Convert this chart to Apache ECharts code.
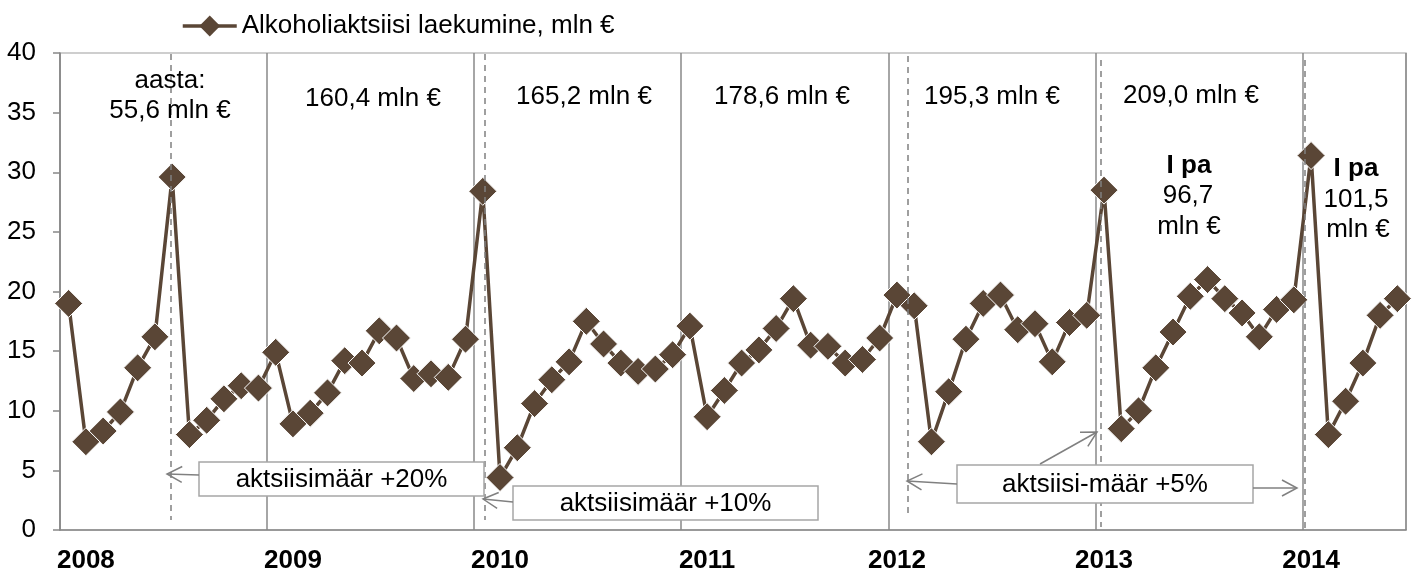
<!DOCTYPE html>
<html>
<head>
<meta charset="utf-8">
<script src="https://cdn.jsdelivr.net/npm/echarts@6/dist/echarts.min.js"></script>
<style>
html,body{margin:0;padding:0;background:#fff;}
#c{width:1422px;height:571px;}
</style>
</head>
<body>
<div id="c"></div>
<script>
// ---- data ----
const seriesName = 'Alkoholiaktsiisi laekumine, mln €';
const months = [];
for (let y = 2008; y <= 2014; y++) {
  for (let m = 1; m <= 12; m++) {
    if (y === 2014 && m > 6) break;
    months.push(y + '-' + (m < 10 ? '0' + m : m));
  }
}
const values2008 = [19.0, 7.4, 8.3, 9.9, 13.6, 16.2, 29.6, 8.0, 9.2, 11.0, 12.1, 11.9];
const values2009 = [14.9, 8.9, 9.8, 11.5, 14.2, 14.0, 16.7, 16.1, 12.7, 13.1, 12.8, 16.0];
const values2010 = [28.4, 4.4, 6.9, 10.6, 12.6, 14.1, 17.5, 15.6, 14.0, 13.3, 13.5, 14.7];
const values2011 = [17.1, 9.5, 11.7, 14.0, 15.1, 16.9, 19.4, 15.5, 15.4, 14.0, 14.3, 16.1];
const values2012 = [19.7, 18.8, 7.4, 11.6, 16.0, 19.0, 19.7, 16.8, 17.3, 14.1, 17.4, 18.0];
const values2013 = [28.5, 8.5, 10.0, 13.6, 16.6, 19.6, 21.0, 19.4, 18.2, 16.2, 18.5, 19.3];
const values2014 = [31.4, 8.0, 10.8, 14.0, 18.0, 19.4];
const values = [].concat(values2008, values2009, values2010, values2011, values2012, values2013, values2014);

const yearLabelMonths = ['2008-02', '2009-02', '2010-02', '2011-02', '2012-01', '2013-01', '2014-01'];
const yearTotals = ['aasta:\n55,6 mln €', '160,4 mln €', '165,2 mln €', '178,6 mln €', '195,3 mln €', '209,0 mln €'];
const halfYearTotals = [['I pa', '96,7', 'mln €'], ['I pa', '101,5', 'mln €']];
const rateNotes = ['aktsiisimäär +20%', 'aktsiisimäär +10%', 'aktsiisi-määr +5%'];

// ---- chart ----
const FONT = "'Liberation Sans', Arial, sans-serif";
const FS = 26;
const LINE_COLOR = '#5a4636';
const GRAY = '#808080';

const chart = echarts.init(document.getElementById('c'), null, {renderer: 'canvas'});

function arrow(x1, y1, x2, y2) {
  const dx = x2 - x1, dy = y2 - y1;
  const len = Math.sqrt(dx * dx + dy * dy);
  const ux = dx / len, uy = dy / len;
  const nx = -uy, ny = ux;
  const L = 15, W = 8;
  return [
    {type: 'line', shape: {x1: x1, y1: y1, x2: x2, y2: y2}, style: {stroke: GRAY, lineWidth: 1.5}, z: 10},
    {type: 'polyline', shape: {points: [[x2 - L * ux + W * nx, y2 - L * uy + W * ny], [x2, y2], [x2 - L * ux - W * nx, y2 - L * uy - W * ny]]},
      style: {stroke: GRAY, lineWidth: 1.5, fill: null}, z: 10}
  ];
}
function dashed(x, y1, y2) {
  return {type: 'line', shape: {x1: x, y1: y1, x2: x, y2: y2}, style: {stroke: GRAY, lineWidth: 1.5, lineDash: [6, 5]}, z: 5};
}
function txt(str, x, y, bold) {
  return {type: 'text', x: x, y: y, z: 10,
    style: {text: str, font: (bold ? 'bold ' : '') + FS + 'px ' + FONT, fill: '#000', align: 'center', verticalAlign: 'middle', lineHeight: 30}};
}
function box(str, x, y, w, h) {
  return [
    {type: 'rect', shape: {x: x, y: y, width: w, height: h}, style: {fill: '#fff', stroke: '#a6a6a6', lineWidth: 1.5}, z: 10},
    {type: 'text', x: x + w / 2, y: y + h / 2 + 1, z: 11,
      style: {text: str, font: FS + 'px ' + FONT, fill: '#000', align: 'center', verticalAlign: 'middle'}}
  ];
}

const graphics = [].concat(
  [dashed(171, 54, 520), dashed(485, 54, 520), dashed(908, 56, 518), dashed(1101, 60, 527), dashed(1305, 60, 530)],
  [txt(yearTotals[0], 170, 96), txt(yearTotals[1], 373, 99), txt(yearTotals[2], 584, 97),
   txt(yearTotals[3], 782, 97), txt(yearTotals[4], 992, 97), txt(yearTotals[5], 1191, 96)],
  [txt(halfYearTotals[0][0], 1189, 166, true), txt(halfYearTotals[0][1], 1188, 196), txt(halfYearTotals[0][2], 1189, 227)],
  [txt(halfYearTotals[1][0], 1356, 169, true), txt(halfYearTotals[1][1], 1356, 200), txt(halfYearTotals[1][2], 1358, 230)],
  box(rateNotes[0], 199, 462, 285, 34),
  box(rateNotes[1], 513, 486, 305, 34),
  box(rateNotes[2], 957, 465, 296, 38),
  arrow(199, 475, 167, 474),
  arrow(513, 502, 483, 499),
  arrow(957, 484, 907, 481),
  arrow(1040, 464, 1097, 432),
  arrow(1253, 488, 1297, 488)
);

chart.setOption({
  animation: false,
  backgroundColor: '#fff',
  textStyle: {fontFamily: FONT},
  legend: {
    data: [seriesName],
    left: 176, top: 8,
    itemWidth: 54, itemHeight: 26, itemGap: 5,
    itemStyle: {borderWidth: 0},
    lineStyle: {width: 3.5},
    textStyle: {fontSize: FS, color: '#000', fontFamily: FONT}
  },
  grid: {left: 60, right: 16, top: 53, bottom: 41, show: true, borderColor: '#bfbfbf', borderWidth: 1.5,
    outerBoundsMode: 'none', containLabel: false},
  xAxis: {
    type: 'category',
    data: months,
    boundaryGap: true,
    axisLine: {show: true, lineStyle: {color: '#888', width: 1.5}},
    axisTick: {show: false},
    axisLabel: {
      interval: 0,
      margin: 18,
      fontSize: FS, fontWeight: 'bold', color: '#000', fontFamily: FONT,
      formatter: function (v) { return yearLabelMonths.indexOf(v) >= 0 ? v.slice(0, 4) : ''; }
    },
    splitLine: {
      show: true,
      interval: function (index) { return index % 12 === 0; },
      lineStyle: {color: '#888', width: 1.5}
    }
  },
  yAxis: {
    type: 'value',
    min: 0, max: 40, interval: 5,
    axisLine: {show: true, lineStyle: {color: '#888', width: 1.5}},
    axisTick: {show: true, length: 7, lineStyle: {color: '#888', width: 1.5}},
    axisLabel: {fontSize: FS, color: '#000', margin: 24, fontFamily: FONT},
    splitLine: {show: false}
  },
  series: [{
    name: seriesName,
    type: 'line',
    data: values,
    symbol: 'diamond',
    symbolSize: 28,
    showAllSymbol: true,
    lineStyle: {color: LINE_COLOR, width: 3.5},
    itemStyle: {color: LINE_COLOR, borderColor: '#fff', borderWidth: 1},
    z: 3
  }],
  graphic: graphics
});
</script>
</body>
</html>
